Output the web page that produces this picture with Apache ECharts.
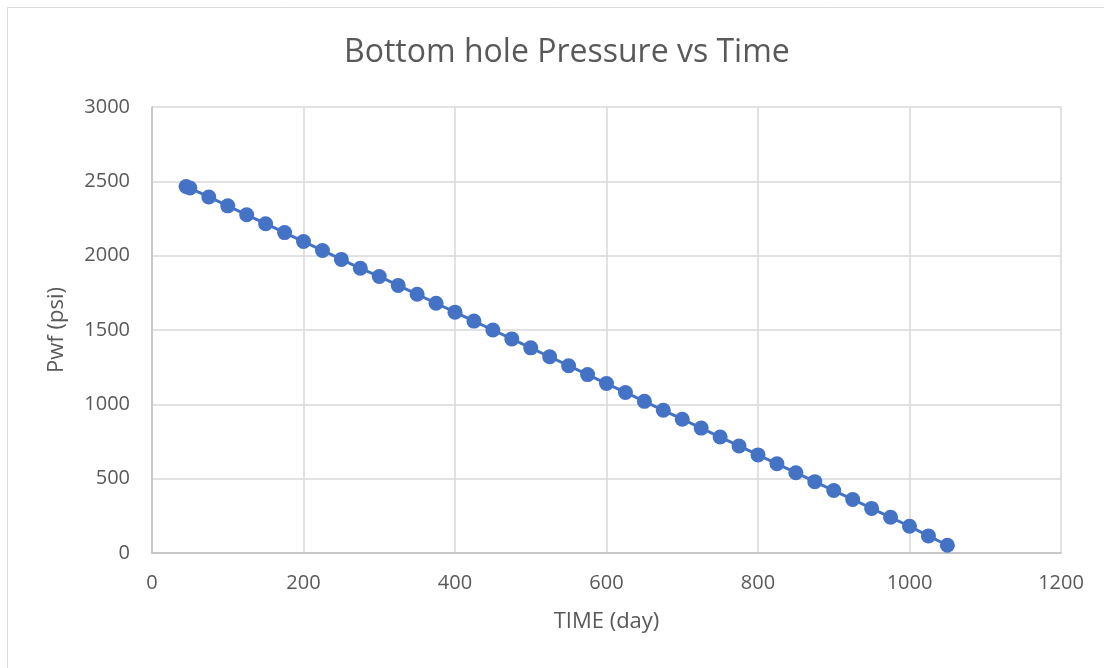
<!DOCTYPE html>
<html>
<head>
<meta charset="utf-8">
<script src="https://cdn.jsdelivr.net/npm/echarts@6/dist/echarts.min.js"></script>
<style>
html,body{margin:0;padding:0;background:#fff;}
#c{width:1104px;height:668px;}
</style>
</head>
<body>
<div id="c"></div>
<script>
var days = [45, 50, 75, 100, 125, 150, 175, 200, 225, 250, 275, 300, 325, 350, 375, 400, 425, 450, 475, 500, 525, 550, 575, 600, 625, 650, 675, 700, 725, 750, 775, 800, 825, 850, 875, 900, 925, 950, 975, 1000, 1025, 1050];
var pwf = [2465, 2455, 2395, 2335, 2275, 2215, 2155, 2095, 2035, 1975, 1915, 1860, 1800, 1740, 1680, 1620, 1560, 1500, 1440, 1380, 1320, 1260, 1200, 1140, 1080, 1020, 960, 900, 840, 780, 720, 660, 600, 540, 480, 420, 360, 300, 240, 180, 115, 52];
var titleText = 'Bottom hole Pressure vs Time';
var xName = 'TIME (day)';
var yName = 'Pwf (psi)';

var points = days.map(function (d, i) { return [d, pwf[i]]; });
var chart = echarts.init(document.getElementById('c'));
var font = '"Open Sans", sans-serif';
var plain = function (v) { return String(v); };
chart.setOption({
  backgroundColor: '#ffffff',
  animation: false,
  graphic: [{
    type: 'rect', shape: {x: 7.5, y: 7.5, width: 1300, height: 900},
    style: {fill: 'none', stroke: '#D9D9D9', lineWidth: 1}, silent: true
  }],
  title: {
    text: titleText, left: 339, top: 32,
    textStyle: {fontFamily: font, fontSize: 32, fontWeight: 'normal', color: '#595959'}
  },
  grid: {left: 152, right: 43, top: 107, bottom: 115},
  xAxis: {
    type: 'value', min: 0, max: 1200, interval: 200,
    name: xName, nameLocation: 'middle', nameGap: 58,
    nameTextStyle: {fontFamily: font, fontSize: 22, color: '#595959'},
    axisLine: {show: true, lineStyle: {color: '#BFBFBF', width: 1.5}},
    axisTick: {show: false},
    axisLabel: {fontFamily: font, fontSize: 20, color: '#595959', margin: 20, formatter: plain},
    splitLine: {show: true, lineStyle: {color: '#D9D9D9', width: 1.5}}
  },
  yAxis: {
    type: 'value', min: 0, max: 3000, interval: 500,
    name: yName, nameLocation: 'middle', nameGap: 84, nameRotate: 90,
    nameTextStyle: {fontFamily: font, fontSize: 22, color: '#595959'},
    axisLine: {show: true, lineStyle: {color: '#BFBFBF', width: 1.5}},
    axisTick: {show: false},
    axisLabel: {fontFamily: font, fontSize: 20, color: '#595959', margin: 22, formatter: plain},
    splitLine: {show: true, lineStyle: {color: '#D9D9D9', width: 1.5}}
  },
  series: [{
    type: 'line', data: points,
    symbol: 'circle', symbolSize: 15, showSymbol: true,
    lineStyle: {color: '#4472C4', width: 3},
    itemStyle: {color: '#4472C4'}
  }]
});
</script>
</body>
</html>
